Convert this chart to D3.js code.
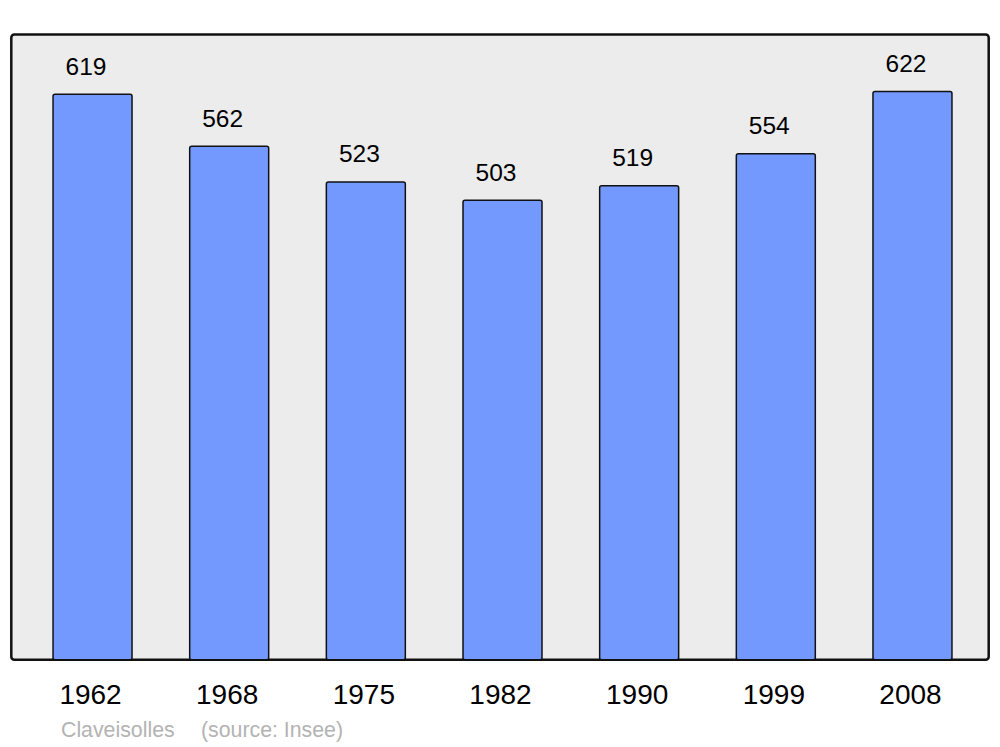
<!DOCTYPE html>
<html>
<head>
<meta charset="utf-8">
<script src="https://cdn.jsdelivr.net/npm/d3@7"></script>
<style>
html,body{margin:0;padding:0;background:#fff;}
svg{display:block;}
text{font-family:"Liberation Sans",Arial,sans-serif;}
</style>
</head>
<body>
<script>
const years = ["1962","1968","1975","1982","1990","1999","2008"];
const population = [619,562,523,503,519,554,622];
const commune = "Claveisolles";
const sourceNote = "(source: Insee)";

const W = 1000, H = 747;
const svg = d3.select("body").append("svg").attr("width", W).attr("height", H);

const panel = {x0: 11.3, y0: 34.5, x1: 988.7, y1: 659.8};

svg.append("rect")
  .attr("x", panel.x0).attr("y", panel.y0)
  .attr("width", panel.x1 - panel.x0).attr("height", panel.y1 - panel.y0)
  .attr("rx", 3).attr("ry", 3)
  .attr("fill", "#ececec").attr("stroke", "#111").attr("stroke-width", 2.5);

const x = d3.scaleBand().domain(years).range([25.7, 979.3]).paddingInner(0.422).paddingOuter(0.2);
const y = d3.scaleLinear().domain([0, 685]).range([659.8, 34]);

const data = years.map((yr, i) => ({year: yr, value: population[i]}));

svg.append("g").selectAll("rect").data(data).join("rect")
  .attr("x", d => x(d.year)).attr("y", d => y(d.value))
  .attr("width", x.bandwidth()).attr("height", d => y(0) - y(d.value))
  .attr("rx", 2).attr("ry", 2)
  .attr("fill", "#7399ff").attr("stroke", "#111").attr("stroke-width", 1.5);

svg.append("g").selectAll("text").data(data).join("text")
  .attr("x", d => x(d.year) + x.bandwidth() / 2 - 6.5)
  .attr("y", d => y(d.value) - 19.5)
  .attr("text-anchor", "middle")
  .attr("font-size", 24.5).attr("fill", "#000")
  .text(d => d.value);

const xAxis = svg.append("g").attr("transform", `translate(0,${panel.y1})`)
  .call(d3.axisBottom(x).tickSize(0).tickPadding(0));
xAxis.select(".domain").remove();
xAxis.selectAll("text")
  .attr("dy", null).attr("y", 44.5).attr("dx", -2)
  .attr("font-size", 28).attr("fill", "#000")
  .attr("font-family", "Liberation Sans, Arial, sans-serif");

svg.append("text").attr("x", 61).attr("y", 737)
  .attr("font-size", 21.3).attr("fill", "#b3b3b3")
  .text(commune);
svg.append("text").attr("x", 201).attr("y", 737)
  .attr("font-size", 21.3).attr("fill", "#b3b3b3")
  .text(sourceNote);
</script>
</body>
</html>
